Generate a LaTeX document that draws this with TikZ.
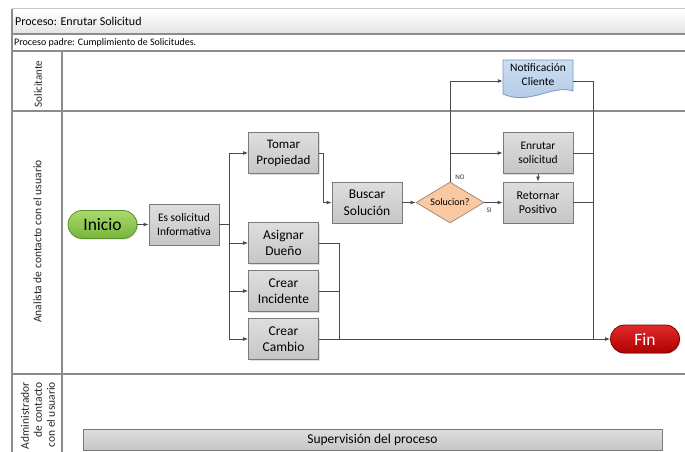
\documentclass[tikz,border=0pt]{standalone}
\usepackage{fontspec}
\setmainfont{Carlito}
\usetikzlibrary{arrows.meta,shapes.geometric,shadows}

\definecolor{laneline}{HTML}{8C8C8C}
\definecolor{bandtop}{HTML}{FFFFFF}
\definecolor{bandbot}{HTML}{E4E4E4}
\definecolor{boxtop}{HTML}{DEDEDE}
\definecolor{boxbot}{HTML}{C6C6C6}
\definecolor{boxline}{HTML}{7A7A7A}
\definecolor{flowc}{HTML}{4A4A4A}
\definecolor{greentop}{HTML}{A8DA6C}
\definecolor{greenbot}{HTML}{78B53A}
\definecolor{greenline}{HTML}{5C8E2E}
\definecolor{redtop}{HTML}{E02A2A}
\definecolor{redbot}{HTML}{B00000}
\definecolor{redline}{HTML}{7E0000}
\definecolor{peach}{HTML}{F9C9A2}
\definecolor{peachline}{HTML}{A08C80}
\definecolor{bluetop}{HTML}{CCDDF0}
\definecolor{bluebot}{HTML}{AFC8E6}
\definecolor{blueline}{HTML}{7C99BC}

\newcommand{\fsz}[2]{\fontsize{#1}{#2}\selectfont}

\tikzset{
  lane/.style={draw=laneline, line width=1.2pt},
  lanelabel/.style={rotate=90, inner sep=0pt, align=center, text=black!85},
  procbox/.style={draw=boxline, line width=0.8pt, top color=boxtop, bottom color=boxbot,
    minimum width=70pt, minimum height=41pt, align=center, inner sep=1pt,
    drop shadow={shadow xshift=1pt, shadow yshift=-1pt, opacity=0.25}},
  terminal/.style={line width=0.8pt, rounded corners=14pt, minimum width=69pt,
    minimum height=28pt, inner sep=1pt,
    drop shadow={shadow xshift=1pt, shadow yshift=-1pt, opacity=0.25}},
  decision/.style={diamond, aspect=1.65, draw=peachline, fill=peach, line width=0.8pt,
    minimum width=68pt, minimum height=41pt, inner sep=0pt},
  flow/.style={draw=flowc, line width=0.9pt},
  arr/.style={flow, -{Latex[length=5pt,width=4pt]}},
  tag/.style={inner sep=0pt, font=\fsz{7}{8}, text=black!80},
}

\begin{document}
\begin{tikzpicture}[x=1pt, y=-1pt]
\useasboundingbox (0,0) rectangle (685,452);
\fill[white] (0,0) rectangle (685,452);

% ---- pool frame and lanes ----
\shade[top color=bandtop, bottom color=bandbot] (12,9) rectangle (685,34);
\draw[draw=black!22, line width=1pt] (12,9) -- (685,9);
\draw[lane] (12,34) -- (685,34);
\draw[lane] (12,51) -- (685,51);
\draw[lane] (12,111) -- (685,111);
\draw[lane] (12,374) -- (685,374);
\draw[lane] (12,9) -- (12,452);
\draw[lane] (62,51) -- (62,452);

\node[anchor=west, inner sep=0pt, font=\fsz{12}{14}] (title) at (15,21.5) {Proceso: Enrutar Solicitud};
\node[anchor=west, inner sep=0pt, font=\fsz{10}{12}] (padre) at (14,43) {Proceso padre: Cumplimiento de Solicitudes.};

\node[lanelabel, font=\fsz{11}{13}] (lsol) at (38,84) {Solicitante};
\node[lanelabel, font=\fsz{11.5}{13}] (lana) at (37.5,241.5) {Analista de contacto con el usuario};
\node[lanelabel, anchor=east, align=right, font=\fsz{11.5}{13}] (ladm) at (38,382)
  {Administrador\\de contacto\\con el usuario};

% ---- flow shapes ----
\node[terminal, draw=greenline, top color=greentop, bottom color=greenbot,
      font=\fsz{17.5}{19}] (inicio) at (102.5,224.5) {Inicio};
\node[procbox, font=\fsz{11.5}{13.5}] (essol) at (184,224.5) {Es solicitud\\Informativa};

\node[procbox, font=\fsz{13}{16}] (tomar)   at (283.5,153)   {Tomar\\Propiedad};
\node[procbox, font=\fsz{13.5}{16.5}] (asignar) at (283.5,243)   {Asignar\\Dueño};
\node[procbox, font=\fsz{13.5}{16.5}] (incid)   at (283.5,291)   {Crear\\Incidente};
\node[procbox, font=\fsz{13.5}{16.5}] (cambio)  at (283.5,339)   {Crear\\Cambio};

\node[procbox, font=\fsz{13.5}{16.5}] (buscar) at (367,202.5) {Buscar\\Solución};
\node[decision, font=\fsz{10}{12}] (sol) at (450,202.5) {Solucion?};

\node[procbox, font=\fsz{11.5}{14}] (enrutar)  at (538,153)   {Enrutar\\solicitud};
\node[procbox, font=\fsz{12}{14.5}] (retornar) at (538,202.5) {Retornar\\Positivo};

% document shape of the customer notification
\shade[top color=bluetop, bottom color=bluebot, draw=blueline, line width=0.8pt]
  (503,60) -- (573,60) -- (573,91)
  .. controls (552,84) and (530,106) .. (503,94) -- cycle;
\node[minimum width=70pt, minimum height=30pt, inner sep=0pt, align=center,
      font=\fsz{11.5}{14}] (notif) at (538,75) {Notificación\\Cliente};

\node[terminal, draw=redline, top color=redtop, bottom color=redbot, text=white,
      font=\fsz{17.5}{19}] (fin) at (645,339) {Fin};

\node[draw=boxline, line width=0.8pt, top color=boxtop, bottom color=boxbot,
      minimum width=579pt, minimum height=21pt, inner sep=0pt,
      font=\fsz{13.5}{15}] (superv) at (372.5,439.5) {Supervisión del proceso};

% ---- connectors ----
\coordinate (br) at (229,224.5);
\coordinate (mL) at (339,339);
\coordinate (mR) at (593,339);

\draw[arr] (inicio) -- (essol);
\draw[flow] (essol.east) -- (br);
\draw[arr] (br) |- (tomar.west);
\draw[arr] (br) |- (asignar.west);
\draw[arr] (br) |- (incid.west);
\draw[arr] (br) |- (cambio.west);

\draw[arr] (tomar.east) -- ++(5,0) |- (buscar.west);
\draw[arr] (buscar) -- (sol);
\draw[arr] (sol.east) -- (retornar.west);
\draw[arr] (sol.north) |- ([yshift=-6pt]notif.west);
\draw[arr] (sol.north |- enrutar.west) -- (enrutar.west);
\draw[arr] (enrutar) -- (retornar);

\node[tag] (tno) at (460,177) {NO};
\node[tag] (tsi) at (489,210.5) {SI};

\draw[flow] ([yshift=-6pt]notif.east) -| (mR);
\draw[flow] (enrutar.east) -- (enrutar.east -| mR);
\draw[flow] (retornar.east) -- (retornar.east -| mR);

\draw[flow] (asignar.east) -| (mL);
\draw[flow] (incid.east) -- (incid.east -| mL);
\draw[arr] (cambio.east) -- (fin.west);
\end{tikzpicture}
\end{document}
